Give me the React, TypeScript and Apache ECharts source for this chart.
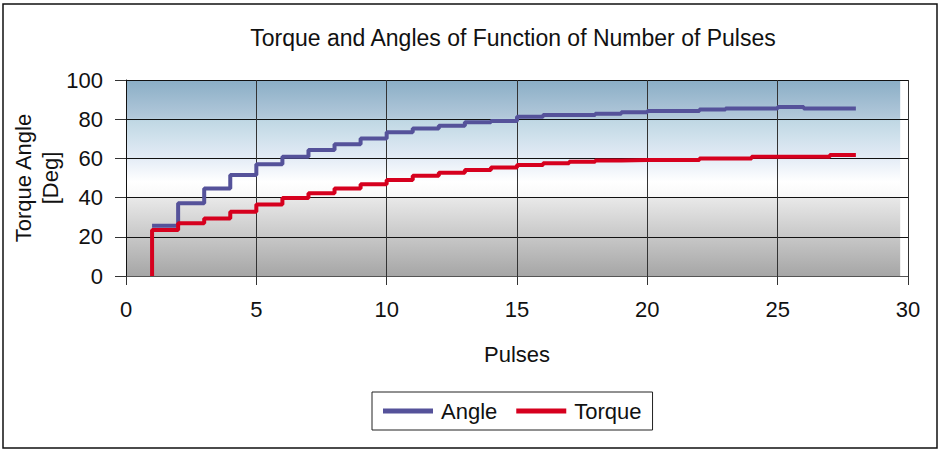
import React, { useEffect, useRef } from "react";
import * as echarts from "echarts";

const pulses = [1, 2, 3, 4, 5, 6, 7, 8, 9, 10, 11, 12, 13, 14, 15, 16, 17, 18, 19, 20, 21, 22, 23, 24, 25, 26, 27, 28];
const angle = [25.7, 37.1, 44.7, 51.5, 57.0, 60.9, 64.3, 67.2, 70.2, 73.3, 75.3, 76.7, 78.4, 79.1, 81.3, 82.1, 82.1, 82.8, 83.5, 84.2, 84.2, 84.9, 85.5, 85.5, 86.2, 85.5, 85.5, 85.5];
const torque = [23.5, 26.9, 29.4, 32.8, 36.5, 39.8, 42.2, 44.7, 46.8, 49.0, 51.2, 52.7, 54.1, 55.3, 56.6, 57.5, 58.3, 58.9, 59.2, 59.2, 59.2, 60.0, 60.0, 60.9, 60.9, 60.9, 61.7, 61.7];
const torqueStart = 0;
const backgroundEnd = 29.7;

const FONT = "'Liberation Sans', Arial, Helvetica, sans-serif";

export default function App() {
  const ref = useRef<HTMLDivElement>(null);
  useEffect(() => {
    if (!ref.current) return;
    const chart = echarts.init(ref.current, undefined, { renderer: "svg" });
    const angleData = pulses.map((p, i) => [p, angle[i]]);
    const torqueData = [[pulses[0], torqueStart], ...pulses.map((p, i) => [p, torque[i]])];
    chart.setOption({
      animation: false,
      textStyle: { fontFamily: FONT },
      grid: { left: 126, right: 33, top: 80, bottom: 174, containLabel: false, outerBoundsMode: "none" },
      graphic: [
        {
          type: "rect",
          shape: { x: 3, y: 4, width: 934, height: 444 },
          style: { fill: "none", stroke: "#111", lineWidth: 1.5 },
          z: -10,
        },
        {
          type: "text",
          x: 513,
          y: 38,
          style: {
            text: "Torque and Angles of Function of Number of Pulses",
            fontSize: 23,
            fontFamily: FONT,
            fill: "#111",
            textAlign: "center",
            textVerticalAlign: "middle",
          },
        },
      ],
      legend: {
        left: 372,
        top: 392,
        padding: [8, 11],
        itemGap: 19,
        itemWidth: 50,
        itemHeight: 5,
        icon: "rect",
        borderColor: "#222",
        borderWidth: 1,
        textStyle: { fontSize: 22, color: "#111", fontFamily: FONT, padding: [0, 0, 0, 3] },
        data: ["Angle", "Torque"],
      },
      xAxis: {
        type: "value",
        min: 0,
        max: 30,
        interval: 5,
        name: "Pulses",
        nameLocation: "middle",
        nameGap: 67,
        nameMoveOverlap: false,
        nameTextStyle: { fontSize: 22, color: "#111", fontFamily: FONT },
        axisLine: { show: true, lineStyle: { color: "#555", width: 1 } },
        axisTick: { show: true, length: 9, lineStyle: { color: "#333" } },
        axisLabel: { fontSize: 22, color: "#111", margin: 22, fontFamily: FONT },
        splitLine: { show: true, lineStyle: { color: "#333", width: 1 } },
      },
      yAxis: {
        type: "value",
        min: 0,
        max: 100,
        interval: 20,
        name: "Torque Angle\n[Deg]",
        nameLocation: "middle",
        nameRotate: 90,
        nameGap: 62,
        nameMoveOverlap: false,
        nameTextStyle: { fontSize: 22, color: "#111", fontFamily: FONT, lineHeight: 27 },
        axisLine: { show: true, lineStyle: { color: "#111", width: 1 } },
        axisTick: { show: true, length: 11, lineStyle: { color: "#333" } },
        axisLabel: { fontSize: 22, color: "#111", margin: 23, fontFamily: FONT },
        splitLine: { show: true, lineStyle: { color: "#111", width: 1 } },
      },
      series: [
        {
          name: "Angle",
          type: "line",
          step: "end",
          data: angleData,
          showSymbol: false,
          symbol: "none",
          color: "#55529a",
          lineStyle: { width: 4, color: "#55529a" },
          z: 3,
          markArea: {
            silent: true,
            z: -1,
            label: { show: false },
            itemStyle: {
              color: new echarts.graphic.LinearGradient(0, 0, 0, 1, [
                { offset: 0, color: "#8aaec6" },
                { offset: 0.19, color: "#b2c8da" },
                { offset: 0.21, color: "#c0d8e4" },
                { offset: 0.4, color: "#e4ecf6" },
                { offset: 0.52, color: "#ffffff" },
                { offset: 0.595, color: "#f8f8f8" },
                { offset: 0.605, color: "#e8e8e8" },
                { offset: 1, color: "#a6a6a6" },
              ]),
            },
            data: [[{ xAxis: 0, yAxis: 0 }, { xAxis: backgroundEnd, yAxis: 100 }]],
          },
        },
        {
          name: "Torque",
          type: "line",
          step: "end",
          data: torqueData,
          showSymbol: false,
          symbol: "none",
          color: "#d6001e",
          lineStyle: { width: 4, color: "#d6001e" },
          z: 4,
        },
      ],
    });
    return () => chart.dispose();
  }, []);
  return <div ref={ref} style={{ position: "absolute", left: 0, top: 0, width: 941, height: 450 }} />;
}
